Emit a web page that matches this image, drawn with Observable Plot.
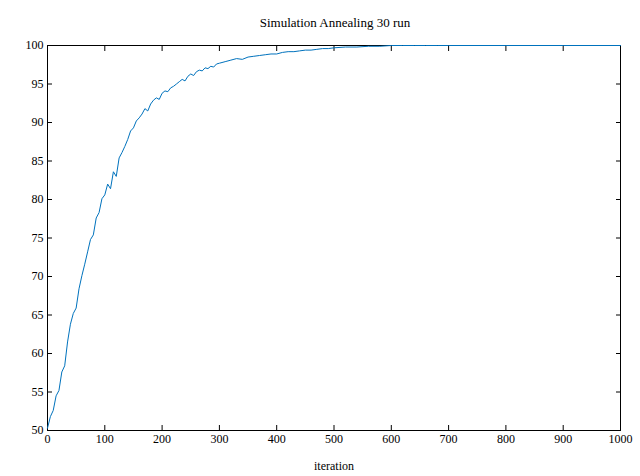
<!DOCTYPE html>
<html>
<head>
<meta charset="utf-8">
<script src="https://cdn.jsdelivr.net/npm/d3@7"></script>
<script src="https://cdn.jsdelivr.net/npm/@observablehq/plot@0.6"></script>
<style>
  body { margin: 0; background: #fff; font-family: "Liberation Serif", serif; }
  #title { height: 32px; line-height: 46px; text-align: center; font-size: 13px; padding-left: 30px; }
</style>
</head>
<body>
<div id="title">Simulation Annealing 30 run</div>
<div id="grafico"></div>
<script>
const iteraciones = [
  0,5,10,15,20,25,30,35,40,45,50,55,60,65,70,75,80,85,90,95,
  100,105,110,115,120,125,130,135,140,145,150,155,160,165,170,175,180,185,190,195,
  200,205,210,215,220,225,230,235,240,245,250,255,260,265,270,275,280,285,290,295,300,
  310,320,330,340,350,360,370,380,390,400,410,420,430,440,450,460,470,480,490,500,
  520,540,560,580,600,620,640,660,680,700,800,900,1000
];
const valores = [
  50.3,51.8,52.6,54.5,55.2,57.6,58.4,61.5,63.8,65.2,65.9,68.4,70.1,71.6,73.2,74.8,75.4,77.6,78.3,80.1,
  80.6,82.0,81.4,83.6,83.0,85.4,86.1,86.9,87.8,88.9,89.3,90.2,90.6,91.1,91.8,91.5,92.4,92.9,93.2,93.0,
  93.8,94.1,94.0,94.5,94.7,95.0,95.3,95.6,95.4,96.0,96.3,96.1,96.6,96.8,96.7,97.1,97.0,97.3,97.2,97.6,97.7,
  97.9,98.1,98.3,98.2,98.5,98.6,98.7,98.8,98.9,98.9,99.1,99.2,99.2,99.3,99.4,99.4,99.5,99.6,99.6,99.7,
  99.8,99.8,99.9,99.9,100,100,100,100,100,100,100,100,100
];
const xTicks = d3.range(0, 1001, 100);
const yTicks = d3.range(50, 101, 5);

const datos = iteraciones.map((it, i) => ({iteration: it, value: valores[i]}));

const chart = Plot.plot({
  width: 640,
  height: 444,
  marginTop: 13,
  marginLeft: 47,
  marginRight: 20,
  marginBottom: 46,
  style: {fontFamily: "Liberation Serif, serif", fontSize: "12px", color: "#000"},
  x: {domain: [0, 1000]},
  y: {domain: [50, 100]},
  marks: [
    Plot.frame({stroke: "#000"}),
    Plot.axisX({ticks: xTicks, tickSize: -5, tickPadding: 9, tickFormat: d3.format("d"), label: "iteration", labelAnchor: "center", labelArrow: "none", labelOffset: 39, fontSize: 12}),
    Plot.axisX({anchor: "top", ticks: xTicks, tickSize: -5, tickFormat: () => "", label: null}),
    Plot.axisY({ticks: yTicks, tickSize: -5, tickPadding: 9, label: null, fontSize: 12}),
    Plot.axisY({anchor: "right", ticks: yTicks, tickSize: -5, tickFormat: () => "", label: null}),
    Plot.line(datos, {x: "iteration", y: "value", stroke: "#0072BD", strokeWidth: 1})
  ]
});
document.getElementById("grafico").append(chart);
</script>
</body>
</html>
